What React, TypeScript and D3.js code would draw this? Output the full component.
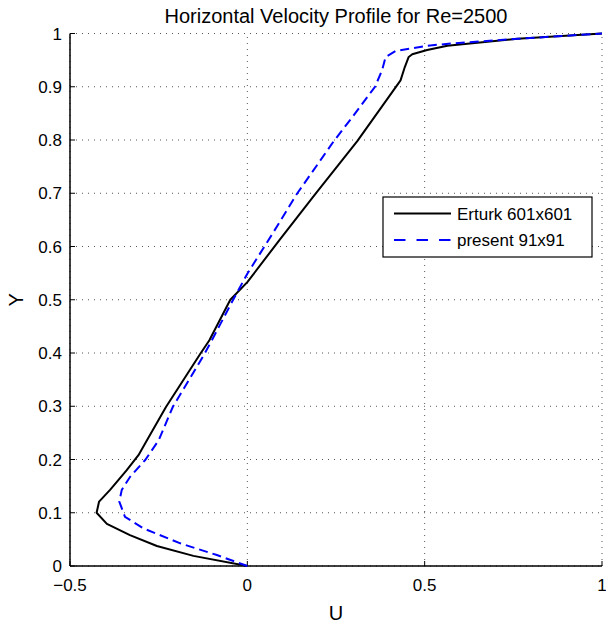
import React from "react";
import * as d3 from "d3";

const erturkY = [0, 0.019, 0.0375, 0.058, 0.079, 0.1, 0.121, 0.143, 0.18, 0.208, 0.236, 0.299, 0.398, 0.424, 0.5, 0.533, 0.613, 0.699, 0.798, 0.912, 0.937, 0.956, 0.961, 0.969, 0.977, 0.99, 1.0];
const erturkU = [0, -0.152, -0.255, -0.331, -0.396, -0.425, -0.418, -0.387, -0.34, -0.307, -0.283, -0.229, -0.133, -0.107, -0.048, 0, 0.0915, 0.192, 0.31, 0.432, 0.444, 0.455, 0.465, 0.507, 0.564, 0.762, 1.0];

const presentY = [0, 0.0206, 0.0426, 0.0707, 0.0925, 0.121, 0.143, 0.168, 0.199, 0.236, 0.299, 0.398, 0.424, 0.5, 0.549, 0.623, 0.699, 0.798, 0.843, 0.9, 0.931, 0.956, 0.967, 0.977, 0.981, 0.99, 1.0];
const presentU = [0, -0.086, -0.189, -0.293, -0.345, -0.361, -0.354, -0.33, -0.288, -0.25, -0.21, -0.121, -0.1, -0.04, 0, 0.07, 0.14, 0.244, 0.296, 0.36, 0.38, 0.39, 0.418, 0.507, 0.573, 0.762, 1.0];

const xTicks = [-0.5, 0, 0.5, 1];
const xTickLabels = ["\u22120.5", "0", "0.5", "1"];
const yTicks = [0, 0.1, 0.2, 0.3, 0.4, 0.5, 0.6, 0.7, 0.8, 0.9, 1];
const yTickLabels = ["0", "0.1", "0.2", "0.3", "0.4", "0.5", "0.6", "0.7", "0.8", "0.9", "1"];
const legendLabels = ["Erturk 601x601", "present 91x91"];

const W = 606, H = 626;
const L = 70, R = 602, T = 33.5, B = 566;
const font = "'Liberation Sans', Arial, sans-serif";

export default function App() {
  const x = d3.scaleLinear().domain([-0.5, 1]).range([L, R]);
  const y = d3.scaleLinear().domain([0, 1]).range([B, T]);
  const line = d3.line<[number, number]>().x(d => x(d[0])).y(d => y(d[1]));
  const erturk = line(erturkU.map((u, i) => [u, erturkY[i]] as [number, number]))!;
  const present = line(presentU.map((u, i) => [u, presentY[i]] as [number, number]))!;
  const grid = "#555";
  return (
    <svg width={W} height={H} style={{ display: "block", position: "absolute", left: 0, top: 0 }} fontFamily={font}>
      <rect width={W} height={H} fill="#fff" />
      {xTicks.map(t => (
        <line key={"gx" + t} x1={x(t)} x2={x(t)} y1={B} y2={T} stroke={grid} strokeWidth={1} strokeDasharray="1,5" />
      ))}
      {yTicks.map(t => (
        <line key={"gy" + t} x1={L} x2={R} y1={y(t)} y2={y(t)} stroke={grid} strokeWidth={1} strokeDasharray="1,5" />
      ))}
      <line x1={L} x2={R} y1={B} y2={B} stroke="#000" strokeWidth={1.5} />
      <line x1={L} x2={L} y1={B} y2={T} stroke="#000" strokeWidth={1.5} />
      {xTicks.map(t => (
        <line key={"tx" + t} x1={x(t)} x2={x(t)} y1={B} y2={B - 5} stroke="#000" strokeWidth={1} />
      ))}
      {yTicks.map(t => (
        <line key={"ty" + t} x1={L} x2={L + 5} y1={y(t)} y2={y(t)} stroke="#000" strokeWidth={1} />
      ))}
      {xTicks.map((t, i) => (
        <text key={"lx" + t} x={x(t)} y={591} fontSize={17} textAnchor="middle">{xTickLabels[i]}</text>
      ))}
      {yTicks.map((t, i) => (
        <text key={"ly" + t} x={62} y={y(t) + 6} fontSize={17} textAnchor="end">{yTickLabels[i]}</text>
      ))}
      <path d={erturk} fill="none" stroke="#000" strokeWidth={2} strokeLinejoin="round" />
      <path d={present} fill="none" stroke="#0000ff" strokeWidth={2} strokeDasharray="9,5" />
      <text x={(L + R) / 2} y={22.5} fontSize={20} textAnchor="middle">Horizontal Velocity Profile for Re=2500</text>
      <text x={(L + R) / 2} y={620} fontSize={20} textAnchor="middle">U</text>
      <text x={0} y={0} fontSize={20} textAnchor="middle" transform={`translate(23,${(T + B) / 2}) rotate(-90)`}>Y</text>
      <rect x={383} y={197} width={209} height={60} fill="#fff" stroke="#000" strokeWidth={1.2} />
      <line x1={394} x2={451} y1={213.5} y2={213.5} stroke="#000" strokeWidth={2.2} />
      <line x1={394} x2={451} y1={240} y2={240} stroke="#0000ff" strokeWidth={2.2} strokeDasharray="11.5,11" />
      <text x={457} y={219.5} fontSize={17}>{legendLabels[0]}</text>
      <text x={457} y={246} fontSize={17}>{legendLabels[1]}</text>
    </svg>
  );
}
